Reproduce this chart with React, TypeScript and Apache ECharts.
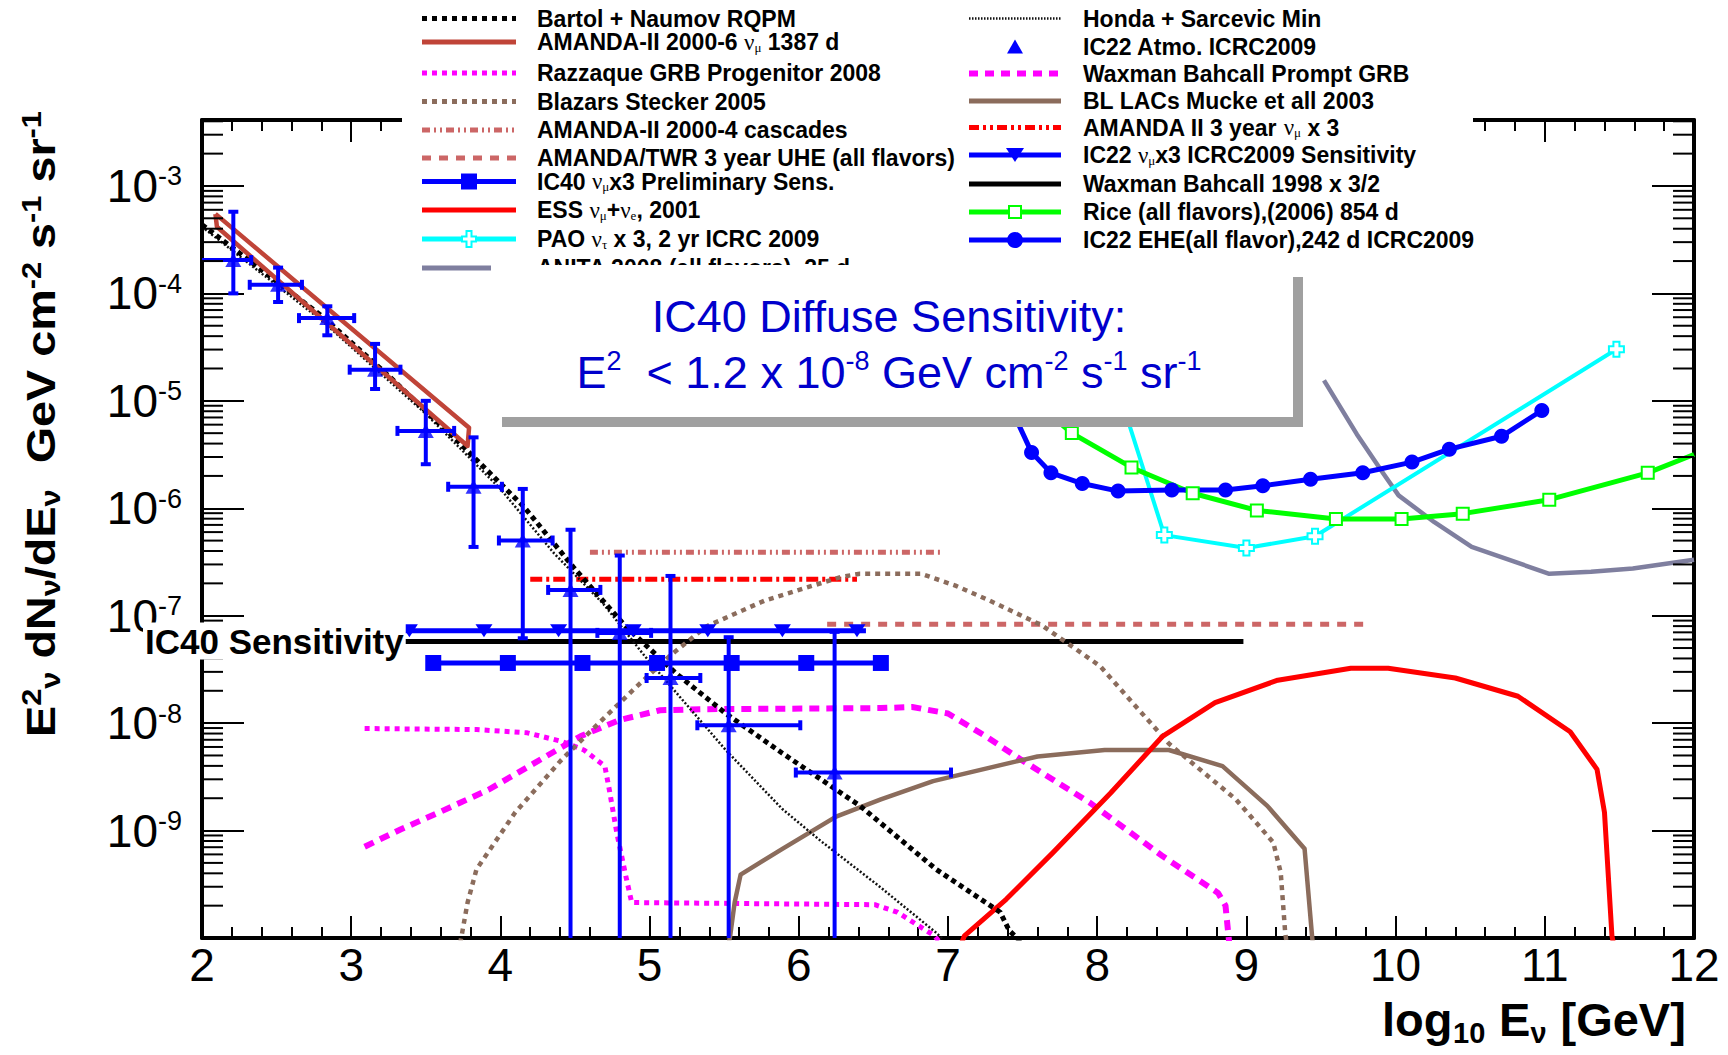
import React, { useEffect, useRef } from "react";
import * as echarts from "echarts";

// ---------- axis ----------
const X_MIN = 2;
const X_MAX = 12;
const Y_MIN = -10; // log10 of 1e-10
const Y_MAX = -2.386;
const yLabelValues = [-9, -8, -7, -6, -5, -4, -3];
const yMajorTicks = [-10, -9, -8, -7, -6, -5, -4, -3];

// ---------- data (x = log10 E/GeV, y = log10 of E^2 dN/dE) ----------
const bartolX = [2.0, 2.37, 2.82, 3.26, 3.71, 4.16, 4.49, 4.84, 5.18, 5.51, 5.89, 6.41, 6.92, 7.35, 7.41, 7.5];
const bartolY = [-3.36, -3.75, -4.23, -4.78, -5.37, -5.99, -6.55, -7.1, -7.54, -7.91, -8.28, -8.77, -9.36, -9.76, -9.93, -10.05];

const hondaX = [2.0, 2.8, 3.5, 4.0, 4.36, 4.69, 4.97, 5.28, 5.51, 5.89, 6.15, 6.54, 6.92, 6.98];
const hondaY = [-3.38, -4.25, -5.12, -5.82, -6.42, -6.89, -7.38, -7.88, -8.25, -8.8, -9.1, -9.52, -9.95, -10.03];

const razzX = [3.09, 3.84, 4.18, 4.41, 4.56, 4.7, 4.73, 4.78, 4.84, 4.88, 6.51, 6.66, 6.91, 6.95];
const razzY = [-8.05, -8.06, -8.09, -8.17, -8.25, -8.4, -8.62, -9.02, -9.42, -9.67, -9.69, -9.76, -9.98, -10.05];

const wbPromptX = [3.09, 3.33, 3.59, 3.92, 4.23, 4.54, 4.8, 5.07, 5.38, 6.55, 6.76, 7.0, 7.25, 7.49, 7.95, 8.44, 8.81, 8.86, 8.88, 8.885];
const wbPromptY = [-9.15, -8.99, -8.83, -8.62, -8.37, -8.12, -7.97, -7.88, -7.87, -7.86, -7.85, -7.91, -8.12, -8.34, -8.74, -9.24, -9.58, -9.7, -9.98, -10.05];

const blazarX = [3.73, 3.74, 3.78, 3.84, 4.1, 4.41, 4.66, 4.89, 5.13, 5.38, 5.77, 6.28, 6.41, 6.82, 7.05, 7.28, 7.63, 8.02, 8.48, 8.93, 9.18, 9.23, 9.26, 9.27];
const blazarY = [-10.05, -9.98, -9.67, -9.36, -8.83, -8.34, -8.0, -7.69, -7.38, -7.1, -6.86, -6.64, -6.61, -6.61, -6.72, -6.86, -7.09, -7.47, -8.19, -8.71, -9.11, -9.39, -9.95, -10.05];

const blLacX = [5.53, 5.54, 5.57, 5.61, 5.89, 6.25, 6.55, 6.9, 7.6, 8.05, 8.48, 8.84, 9.14, 9.39, 9.44, 9.445];
const blLacY = [-10.05, -9.98, -9.67, -9.41, -9.17, -8.87, -8.71, -8.54, -8.31, -8.25, -8.25, -8.4, -8.77, -9.17, -9.98, -10.05];

const essX = [7.09, 7.11, 7.39, 7.7, 8.09, 8.44, 8.79, 9.21, 9.7, 9.95, 10.4, 10.82, 11.17, 11.35, 11.4, 11.45, 11.46];
const essY = [-10.05, -9.98, -9.64, -9.21, -8.65, -8.12, -7.81, -7.6, -7.49, -7.49, -7.58, -7.75, -8.08, -8.43, -8.83, -9.98, -10.05];

const paoX = [8.05, 8.45, 9.0, 9.46, 11.48];
const paoY = [-4.5, -6.25, -6.37, -6.26, -4.52];

const riceX = [7.4, 7.83, 8.23, 8.64, 9.07, 9.6, 10.04, 10.45, 11.03, 11.69, 12.0];
const riceY = [-4.8, -5.3, -5.62, -5.86, -6.02, -6.1, -6.1, -6.05, -5.92, -5.67, -5.5];

const eheX = [7.35, 7.56, 7.69, 7.9, 8.14, 8.5, 8.86, 9.11, 9.43, 9.78, 10.11, 10.36, 10.71, 10.98];
const eheY = [-4.85, -5.48, -5.67, -5.77, -5.84, -5.83, -5.83, -5.79, -5.73, -5.67, -5.57, -5.45, -5.33, -5.09];

const anitaX = [9.52, 9.74, 9.92, 10.02, 10.26, 10.51, 11.03, 11.31, 11.59, 12.0];
const anitaY = [-4.81, -5.31, -5.68, -5.88, -6.13, -6.36, -6.61, -6.59, -6.56, -6.48];

const amandaBandX = [2.09, 3.79, 3.78, 2.1, 2.09];
const amandaBandY = [-3.26, -5.25, -5.42, -3.38, -3.26];

const ic22SensX = [3.35, 3.39, 3.89, 4.39, 4.89, 5.39, 5.89, 6.39, 6.45];
const ic22SensLevel = -7.14;
const ic40SensX = [3.55, 4.05, 4.55, 5.05, 5.55, 6.05, 6.55];
const ic40SensLevel = -7.44;
const wb98X = [3.34, 8.98];
const wb98Level = -7.24;
const cascadesX = [4.6, 6.95];
const cascadesLevel = -6.41;
const amanda3yrX = [4.2, 6.39];
const amanda3yrLevel = -6.66;
const twrX = [6.19, 9.79];
const twrLevel = -7.08;

const atmoX = [2.21, 2.51, 2.84, 3.16, 3.5, 3.82, 4.15, 4.47, 4.8, 5.14, 5.53, 6.24];
const atmoY = [-3.69, -3.92, -4.23, -4.71, -5.28, -5.8, -6.3, -6.76, -7.16, -7.58, -8.02, -8.46];
const atmoXLo = [2.0, 2.32, 2.65, 2.99, 3.31, 3.65, 3.99, 4.32, 4.65, 4.98, 5.32, 5.98];
const atmoXHi = [2.33, 2.67, 3.02, 3.33, 3.69, 4.01, 4.35, 4.67, 5.01, 5.34, 6.01, 7.02];
const atmoYLo = [-4.0, -4.08, -4.39, -4.89, -5.59, -6.36, -7.21, -10, -10, -10, -10, -10];
const atmoYHi = [-3.24, -3.76, -4.12, -4.47, -5.0, -5.34, -5.82, -6.2, -6.44, -6.63, -7.2, -7.15];

// ---------- styling ----------
const FONT = "'Liberation Sans', Arial, Helvetica, sans-serif";
const SERIF = "'Liberation Serif', 'DejaVu Serif', serif";
const BLUE = "#0000ff";
const MAGENTA = "#ff00ff";
const BROWN = "#8b6c5c";
const ROSE = "#cc6666";
const DARKRED = "#c04438";
const CYAN = "#00ffff";
const GREEN = "#00ff00";
const ANITA = "#7f7f9f";
const CROSS = "path://M3,0H7V3H10V7H7V10H3V7H0V3H3Z";

const pts = (xs: number[], ys: number[]) => xs.map((x, i) => [x, ys[i]]);
const flat = (xs: number[], lvl: number) => xs.map((x) => [x, lvl]);

function line(name: string, data: number[][], color: string, width: number, dash: any = "solid", z = 3) {
  return {
    type: "line",
    name,
    data,
    symbol: "none",
    silent: true,
    clip: true,
    z,
    lineStyle: { color, width, type: dash, cap: "butt", join: "round" },
    itemStyle: { color },
  };
}

function markerLine(
  name: string,
  data: number[][],
  color: string,
  width: number,
  symbol: string,
  symbolSize: any,
  itemStyle: any,
  noMarker: number[],
  extra: any = {}
) {
  return {
    type: "line",
    name,
    data: data.map((d, i) => (noMarker.includes(i) ? { value: d, symbol: "none" } : { value: d })),
    symbol,
    symbolSize,
    showSymbol: true,
    showAllSymbol: true,
    silent: true,
    clip: true,
    z: 4,
    lineStyle: { color, width, type: "solid", cap: "butt" },
    itemStyle,
    ...extra,
  };
}

// ---------- legend (drawn) ----------
const legLeftRows = [18.5, 42, 73, 101.5, 130, 158, 181.5, 210, 239, 268];
const legRightRows = [18.5, 46.5, 73.5, 101, 127.5, 155, 184, 212, 240];
const NU = (s: string) => `{nu|ν}{sub|${s}}`;
const legLeft = [
  { text: "Bartol + Naumov RQPM", color: "#000", w: 5, dash: [5, 5] },
  { text: `AMANDA-II 2000-6 ${NU("μ")} 1387 d`, color: DARKRED, w: 5 },
  { text: "Razzaque GRB Progenitor 2008", color: MAGENTA, w: 5, dash: [5, 5] },
  { text: "Blazars Stecker 2005", color: BROWN, w: 5, dash: [5, 5] },
  { text: "AMANDA-II 2000-4 cascades", color: ROSE, w: 5, dash: [8, 4, 2, 4, 2, 4] },
  { text: "AMANDA/TWR 3 year UHE (all flavors)", color: ROSE, w: 5, dash: [9, 8] },
  { text: `IC40 ${NU("μ")}x3 Preliminary Sens.`, color: BLUE, w: 5, marker: "square" },
  { text: `ESS ${NU("μ")}+${NU("e")}, 2001`, color: "#ff0000", w: 5 },
  { text: `PAO ${NU("τ")} x 3, 2 yr ICRC 2009`, color: CYAN, w: 5, marker: "cross" },
  { text: "ANITA 2008 (all flavors), 25 d", color: ANITA, w: 5 },
];
const legRight = [
  { text: "Honda + Sarcevic Min", color: "#111", w: 2.5, dash: [1.5, 1.5] },
  { text: "IC22 Atmo. ICRC2009", color: BLUE, w: 0, marker: "tri" },
  { text: "Waxman Bahcall Prompt GRB", color: MAGENTA, w: 6, dash: [9, 7] },
  { text: "BL LACs Mucke et all 2003", color: BROWN, w: 5 },
  { text: `AMANDA II 3 year ${NU("μ")} x 3`, color: "#ff0000", w: 5, dash: [10, 4, 3, 4, 3, 4] },
  { text: `IC22 ${NU("μ")}x3 ICRC2009 Sensitivity`, color: BLUE, w: 5, marker: "dtri" },
  { text: "Waxman Bahcall 1998 x 3/2", color: "#000", w: 5 },
  { text: "Rice (all flavors),(2006) 854 d", color: GREEN, w: 5, marker: "osquare" },
  { text: "IC22 EHE(all flavor),242 d ICRC2009", color: BLUE, w: 5, marker: "circle" },
];

const legendRich = {
  nu: { fontFamily: SERIF, fontSize: 23, fontWeight: "normal", fill: "#000", color: "#000" },
  sub: { fontFamily: SERIF, fontSize: 13, fontWeight: "normal", verticalAlign: "bottom", fill: "#000", color: "#000", padding: [10, 0, 0, 0] },
};

function legendMarker(kind: string, cx: number, cy: number, color: string): any[] {
  const z = 101;
  if (kind === "square") return [{ type: "rect", z, shape: { x: cx - 8, y: cy - 8, width: 16, height: 16 }, style: { fill: color } }];
  if (kind === "osquare") return [{ type: "rect", z, shape: { x: cx - 6, y: cy - 6, width: 12, height: 12 }, style: { fill: "#fff", stroke: color, lineWidth: 2 } }];
  if (kind === "circle") return [{ type: "circle", z, shape: { cx, cy, r: 8 }, style: { fill: color } }];
  if (kind === "tri")
    return [{ type: "polygon", z, shape: { points: [[cx - 8, cy + 7], [cx + 8, cy + 7], [cx, cy - 7]] }, style: { fill: color } }];
  if (kind === "dtri")
    return [{ type: "polygon", z, shape: { points: [[cx - 9, cy - 7], [cx + 9, cy - 7], [cx, cy + 7]] }, style: { fill: color } }];
  if (kind === "cross")
    return [
      {
        type: "polygon",
        z,
        shape: {
          points: [
            [cx - 2.5, cy - 8], [cx + 2.5, cy - 8], [cx + 2.5, cy - 2.5], [cx + 7, cy - 2.5], [cx + 7, cy + 2.5], [cx + 2.5, cy + 2.5],
            [cx + 2.5, cy + 8], [cx - 2.5, cy + 8], [cx - 2.5, cy + 2.5], [cx - 7, cy + 2.5], [cx - 7, cy - 2.5], [cx - 2.5, cy - 2.5],
          ],
        },
        style: { fill: "#fff", stroke: color, lineWidth: 2 },
      },
    ];
  return [];
}

function legendColumn(items: any[], rows: number[], x1: number, x2: number, tx: number): any[] {
  const out: any[] = [];
  items.forEach((it, i) => {
    const y = rows[i];
    if (it.w > 0)
      out.push({
        type: "line",
        z: 101,
        shape: { x1, y1: y, x2, y2: y },
        style: { stroke: it.color, lineWidth: it.w, lineDash: it.dash || null, lineCap: "butt" },
      });
    if (it.marker) out.push(...legendMarker(it.marker, (x1 + x2) / 2, y, it.color));
    out.push({
      type: "text",
      z: 101,
      x: tx,
      y,
      style: {
        text: it.text,
        fontFamily: FONT,
        fontSize: 23,
        fontWeight: "bold",
        fill: "#000",
        align: "left",
        verticalAlign: "middle",
        rich: legendRich,
      },
    });
  });
  return out;
}

function minorTickValues(): number[] {
  const v: number[] = [];
  for (let n = -10; n <= -3; n++) for (let k = 2; k <= 9; k++) {
    const t = n + Math.log10(k);
    if (t < Y_MAX - 0.005) v.push(t);
  }
  return v;
}

function boldText(text: string, x: number, y: number, size: number, lh = size * 0.85) {
  return {
    type: "text",
    z: 103,
    x,
    y,
    style: { text, fontFamily: FONT, fontWeight: "bold", fontSize: size, lineHeight: lh, fill: "#000", align: "left", verticalAlign: "middle" },
  };
}

function buildOption(): any {
  const yAxisBase = {
    type: "value",
    min: Y_MIN,
    max: Y_MAX,
    interval: 1,
    splitLine: { show: false },
    axisLine: { show: true, onZero: false, lineStyle: { color: "#000", width: 4 } },
    axisTick: { show: true, inside: true, length: 42, customValues: yMajorTicks, lineStyle: { color: "#000", width: 2 } },
  };
  const xAxisBase = {
    type: "value",
    min: X_MIN,
    max: X_MAX,
    interval: 1,
    splitLine: { show: false },
    axisLine: { show: true, onZero: false, lineStyle: { color: "#000", width: 4 } },
    axisTick: { show: true, inside: true, length: 22, lineStyle: { color: "#000", width: 2 } },
    minorTick: { show: true, splitNumber: 5, length: 11, lineStyle: { color: "#000", width: 2 } },
    minorSplitLine: { show: false },
  };

  const errorBars = {
    type: "custom",
    name: "IC22 Atmo. error bars",
    silent: true,
    z: 5,
    data: atmoX.map((x, i) => [x, atmoY[i], atmoXLo[i], atmoXHi[i], atmoYLo[i], atmoYHi[i]]),
    encode: { x: 0, y: 1 },
    renderItem: (_p: any, api: any) => {
      const x = api.value(0), y = api.value(1);
      const xl = api.value(2), xh = api.value(3), yl = api.value(4), yh = api.value(5);
      const L = api.coord([xl, y]), R = api.coord([xh, y]);
      const T = api.coord([x, yh]), B = api.coord([x, yl]);
      const st = { stroke: BLUE, lineWidth: 4 };
      const c = 5;
      const ch: any[] = [
        { type: "line", shape: { x1: L[0], y1: L[1], x2: R[0], y2: R[1] }, style: st },
        { type: "line", shape: { x1: T[0], y1: T[1], x2: B[0], y2: B[1] }, style: st },
        { type: "line", shape: { x1: R[0], y1: R[1] - c, x2: R[0], y2: R[1] + c }, style: st },
        { type: "line", shape: { x1: T[0] - c, y1: T[1], x2: T[0] + c, y2: T[1] }, style: st },
      ];
      if (xl > X_MIN) ch.push({ type: "line", shape: { x1: L[0], y1: L[1] - c, x2: L[0], y2: L[1] + c }, style: st });
      if (yl > Y_MIN) ch.push({ type: "line", shape: { x1: B[0] - c, y1: B[1], x2: B[0] + c, y2: B[1] }, style: st });
      return { type: "group", children: ch };
    },
  };

  const minorTicks = {
    type: "custom",
    name: "minor ticks",
    silent: true,
    z: 6,
    clip: false,
    data: minorTickValues().map((v) => [X_MIN, v]),
    encode: { x: 0, y: 1 },
    renderItem: (_p: any, api: any) => {
      const v = api.value(1);
      const l = api.coord([X_MIN, v]);
      const r = api.coord([X_MAX, v]);
      const st = { stroke: "#000", lineWidth: 2 };
      return {
        type: "group",
        children: [
          { type: "line", shape: { x1: l[0], y1: l[1], x2: l[0] + 21, y2: l[1] }, style: st },
          { type: "line", shape: { x1: r[0], y1: r[1], x2: r[0] - 21, y2: r[1] }, style: st },
        ],
      };
    },
  };

  const series: any[] = [
    line("AMANDA-II 2000-4 cascades", flat(cascadesX, cascadesLevel), ROSE, 5, [8, 4, 2, 4, 2, 4]),
    line("AMANDA II 3 year numu x 3", flat(amanda3yrX, amanda3yrLevel), "#ff0000", 5, [12, 4, 3, 4]),
    line("AMANDA/TWR 3 year UHE", flat(twrX, twrLevel), ROSE, 5, [9, 8]),
    line("Waxman Bahcall 1998 x 3/2", flat(wb98X, wb98Level), "#000", 5),
    line("Razzaque GRB Progenitor 2008", pts(razzX, razzY), MAGENTA, 5, [5, 5]),
    line("Waxman Bahcall Prompt GRB", pts(wbPromptX, wbPromptY), MAGENTA, 6, [10, 7]),
    line("Blazars Stecker 2005", pts(blazarX, blazarY), BROWN, 4.5, [5, 5]),
    line("BL LACs Mucke et all 2003", pts(blLacX, blLacY), BROWN, 4.5),
    line("ESS", pts(essX, essY), "#ff0000", 5),
    line("ANITA 2008", pts(anitaX, anitaY), ANITA, 4.5),
    line("Honda + Sarcevic Min", pts(hondaX, hondaY), "#111", 2.5, [2, 2]),
    line("Bartol + Naumov RQPM", pts(bartolX, bartolY), "#000", 5, [5, 4]),
    line("AMANDA-II 2000-6 numu 1387 d", pts(amandaBandX, amandaBandY), DARKRED, 4.5),
    markerLine("PAO nutau x 3", pts(paoX, paoY), CYAN, 4, CROSS, 15, { color: "#fff", borderColor: CYAN, borderWidth: 2 }, [0]),
    markerLine("Rice (all flavors)", pts(riceX, riceY), GREEN, 5, "rect", 12, { color: "#fff", borderColor: GREEN, borderWidth: 2 }, [0, riceX.length - 1]),
    markerLine("IC22 EHE", pts(eheX, eheY), BLUE, 5, "circle", 15, { color: BLUE }, [0]),
    markerLine("IC22 numu x3 Sensitivity", flat(ic22SensX, ic22SensLevel), BLUE, 5, "triangle", [17, 13], { color: BLUE }, [0, ic22SensX.length - 1], { symbolRotate: 180 }),
    markerLine("IC40 numu x3 Preliminary Sens.", flat(ic40SensX, ic40SensLevel), BLUE, 5, "rect", 16, { color: BLUE }, []),
    errorBars,
    {
      type: "scatter",
      name: "IC22 Atmo. ICRC2009",
      data: pts(atmoX, atmoY),
      symbol: "triangle",
      symbolSize: [16, 14],
      itemStyle: { color: BLUE },
      silent: true,
      z: 6,
    },
    minorTicks,
  ];

  // x axis title pieces (Liberation Sans Bold has Arial metrics)
  const xt = 1382;
  const graphics: any[] = [
    { type: "rect", z: 100, shape: { x: 402, y: 0, width: 1071, height: 262 }, style: { fill: "#fff" } },
    ...legendColumn(legLeft, legLeftRows, 422, 516, 537),
    ...legendColumn(legRight, legRightRows, 969, 1061, 1083),
    // text box with shadow
    { type: "rect", z: 102, shape: { x: 491, y: 265, width: 802, height: 152 }, style: { fill: "#fff" } },
    { type: "rect", z: 102, shape: { x: 1293, y: 277, width: 10, height: 150 }, style: { fill: "#a0a0a0" } },
    { type: "rect", z: 102, shape: { x: 502, y: 417, width: 801, height: 10 }, style: { fill: "#a0a0a0" } },
    {
      type: "text",
      z: 103,
      x: 889,
      y: 316,
      style: { text: "IC40 Diffuse Sensitivity:", fontFamily: FONT, fontSize: 45, fill: "#0000cc", align: "center", verticalAlign: "middle" },
    },
    {
      type: "text",
      z: 103,
      x: 889,
      y: 372,
      style: {
        text: "{m|E}{p|2}{m|  < 1.2 x 10}{p|-8}{m| GeV cm}{p|-2}{m| s}{p|-1}{m| sr}{p|-1}",
        fontFamily: FONT,
        fontSize: 45,
        fill: "#0000cc",
        align: "center",
        verticalAlign: "middle",
        rich: {
          m: { fontFamily: FONT, fontSize: 45, fill: "#0000cc", color: "#0000cc", lineHeight: 50 },
          p: { fontFamily: FONT, fontSize: 27, fill: "#0000cc", color: "#0000cc", verticalAlign: "top", lineHeight: 30 },
        },
      },
    },
    // IC40 Sensitivity label
    {
      type: "text",
      z: 103,
      x: 143,
      y: 641,
      style: {
        text: "IC40 Sensitivity",
        fontFamily: FONT,
        fontSize: 35,
        fontWeight: "bold",
        fill: "#000",
        align: "left",
        verticalAlign: "middle",
        backgroundColor: "#fff",
        padding: [1, 2, 1, 2],
      },
    },
    // y axis title
    {
      type: "text",
      z: 103,
      x: 41,
      y: 424,
      rotation: Math.PI / 2,
      scaleX: 1.14,
      style: {
        text: "{t|E}{p|2}{s|ν}{t| dN}{s|ν}{t|/dE}{s|ν}{t|  GeV cm}{p|-2}{t| s}{p|-1}{t| sr}{p|-1}",
        align: "center",
        verticalAlign: "middle",
        fontFamily: FONT,
        fontWeight: "bold",
        fontSize: 41,
        fill: "#000",
        rich: {
          t: { fontFamily: FONT, fontWeight: "bold", fontSize: 41, fill: "#000", color: "#000", lineHeight: 46 },
          p: { fontFamily: FONT, fontWeight: "bold", fontSize: 27, fill: "#000", color: "#000", verticalAlign: "top", lineHeight: 26 },
          s: { fontFamily: FONT, fontWeight: "bold", fontSize: 27, fill: "#000", color: "#000", verticalAlign: "bottom", lineHeight: 26 },
        },
      },
    },
    // x axis title: log_10 E_nu [GeV]
    boldText("log", xt, 1019, 47, 36),
    boldText("10", xt + 71, 1033, 29, 20),
    boldText("E", xt + 71 + 33 + 13, 1019, 47, 36),
    boldText("ν", xt + 71 + 33 + 13 + 31.5, 1033, 29, 20),
    boldText("[GeV]", xt + 71 + 33 + 13 + 31.5 + 16 + 14, 1019, 47, 36),
  ];

  return {
    animation: false,
    backgroundColor: "#fff",
    grid: { left: 202, top: 120, right: 34, bottom: 117, containLabel: false },
    xAxis: [
      {
        ...xAxisBase,
        position: "bottom",
        axisLabel: { show: true, margin: 9, fontFamily: FONT, fontSize: 46, lineHeight: 36, color: "#000", showMinLabel: true, showMaxLabel: true },
      },
      { ...xAxisBase, position: "top", axisLabel: { show: false } },
    ],
    yAxis: [
      {
        ...yAxisBase,
        position: "left",
        axisLabel: {
          show: true,
          margin: 20,
          customValues: yLabelValues,
          formatter: (v: number) => `{b|10}{s|${Math.round(v)}}`,
          rich: {
            b: { fontFamily: FONT, fontSize: 46, color: "#000", lineHeight: 46, verticalAlign: "bottom" },
            s: { fontFamily: FONT, fontSize: 27, color: "#000", lineHeight: 27, verticalAlign: "top" },
          },
        },
      },
      { ...yAxisBase, position: "right", axisLabel: { show: false } },
    ],
    series,
    graphic: { elements: graphics },
  };
}

export default function App() {
  const ref = useRef<HTMLDivElement>(null);
  useEffect(() => {
    if (!ref.current) return;
    const chart = echarts.init(ref.current, null, { renderer: "svg" });
    chart.setOption(buildOption());
    return () => chart.dispose();
  }, []);
  return (
    <div
      ref={ref}
      style={{ position: "fixed", left: 0, top: 0, width: 1728, height: 1055, background: "#fff" }}
    />
  );
}
